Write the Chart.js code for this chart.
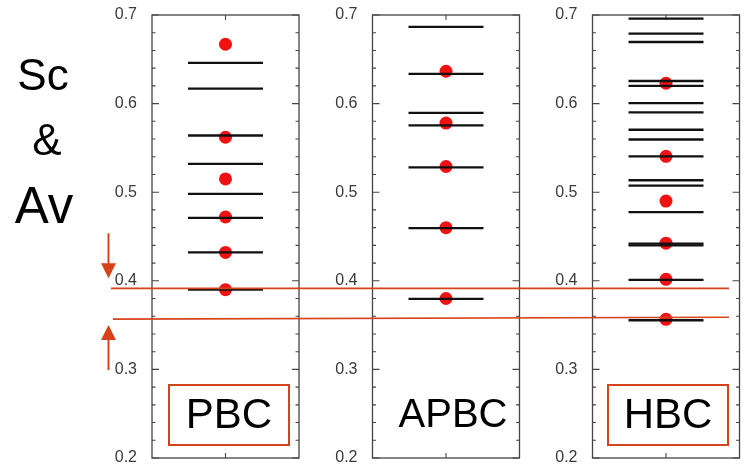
<!DOCTYPE html>
<html>
<head>
<meta charset="utf-8">
<script src="https://cdn.jsdelivr.net/npm/chart.js@4.4.1/dist/chart.umd.min.js"></script>
<style>
  html, body { margin: 0; padding: 0; background: #fff; }
  #wrap { position: relative; width: 748px; height: 469px; overflow: hidden; font-family: "Liberation Sans", Arial, sans-serif; }
  canvas { position: absolute; left: 0; top: 0; }
  .lbl { position: absolute; color: #000; line-height: 1; white-space: nowrap; text-align: center; }
  .box { position: absolute; box-sizing: border-box; border: 2px solid #d4441c; }
</style>
</head>
<body>
<div id="wrap">
  <canvas id="c1" width="748" height="469"></canvas>
  <canvas id="c2" width="748" height="469"></canvas>
  <canvas id="c3" width="748" height="469"></canvas>
  <div class="box" style="left:168px;top:384px;width:122px;height:62px;"></div>
  <div class="box" style="left:607px;top:384px;width:122px;height:62px;"></div>
  <div class="lbl" style="left:-2px;top:53px;width:90px;font-size:44px;">Sc</div>
  <div class="lbl" style="left:2px;top:118px;width:90px;font-size:44px;">&amp;</div>
  <div class="lbl" style="left:-1px;top:180px;width:90px;font-size:51px;">Av</div>
  <div class="lbl" style="left:169px;top:393px;width:120px;font-size:42px;">PBC</div>
  <div class="lbl" style="left:393px;top:393px;width:120px;font-size:40px;">APBC</div>
  <div class="lbl" style="left:608px;top:393px;width:120px;font-size:42px;">HBC</div>
</div>
<script>
// ---- data ----
const panels = ['PBC', 'APBC', 'HBC'];
const yTickLabels = ['0.2', '0.3', '0.4', '0.5', '0.6', '0.7'];
const pbcLevels  = [0.646, 0.617, 0.564, 0.532, 0.498, 0.471, 0.432, 0.390];
const pbcDots    = [0.667, 0.562, 0.515, 0.472, 0.432, 0.390];
const apbcLevels = [0.6865, 0.6335, 0.5895, 0.5755, 0.528, 0.4595, 0.3795];
const apbcDots   = [0.6365, 0.578, 0.529, 0.460, 0.380];
const hbcLevels  = [0.696, 0.679, 0.6695, 0.6255, 0.620, 0.6005, 0.590, 0.5705, 0.5595, 0.5405, 0.5135, 0.5075, 0.4775, 0.442, 0.440, 0.401, 0.3555];
const hbcDots    = [0.623, 0.5405, 0.490, 0.4425, 0.4017, 0.3565];
const thresholdLeft  = [0.3915, 0.3568];
const thresholdRight = [0.3915, 0.3588];

// ---- layout / style ----
const W = 748, H = 469;
const areaLeft = [152, 372.5, 592.5];
const areaWidth = 147;
const areaTop = 15, areaBottom = 458;
const yAxisW = 60;
const frameColor = '#444';
const redLine = '#d6431a';
const dotColor = '#f01212';

const levelsData = [pbcLevels, apbcLevels, hbcLevels];
const dotsData = [pbcDots, apbcDots, hbcDots];

function isMajor(v) { return Math.abs(v * 10 - Math.round(v * 10)) < 1e-6; }

const framePlugin = {
  id: 'frame',
  beforeDatasetsDraw(chart) {
    const ctx = chart.ctx, a = chart.chartArea, ys = chart.scales.y, xs = chart.scales.x;
    ctx.save();
    ctx.strokeStyle = frameColor;
    ctx.lineWidth = 1.3;
    ctx.strokeRect(a.left, a.top, a.right - a.left, a.bottom - a.top);
    ctx.lineWidth = 1.1;
    ys.ticks.forEach(t => {
      const y = ys.getPixelForValue(t.value);
      const len = isMajor(t.value) ? 7 : 3.5;
      ctx.beginPath();
      ctx.moveTo(a.left, y); ctx.lineTo(a.left + len, y);
      ctx.moveTo(a.right, y); ctx.lineTo(a.right - len, y);
      ctx.stroke();
    });
    const cx = xs.getPixelForValue(0);
    ctx.beginPath();
    ctx.moveTo(cx, a.top); ctx.lineTo(cx, a.top + 5);
    ctx.moveTo(cx, a.bottom); ctx.lineTo(cx, a.bottom - 5);
    ctx.stroke();
    ctx.restore();
  }
};

const overlayPlugin = {
  id: 'overlay',
  afterDraw(chart) {
    const ctx = chart.ctx, ys = chart.scales.y;
    const xStart = [111, 113], xEnd = 729;
    ctx.save();
    ctx.strokeStyle = redLine;
    ctx.fillStyle = redLine;
    ctx.lineWidth = 1.6;
    const yl = [], yr = [];
    for (let i = 0; i < thresholdLeft.length; i++) {
      yl[i] = ys.getPixelForValue(thresholdLeft[i]);
      yr[i] = ys.getPixelForValue(thresholdRight[i]);
      ctx.beginPath();
      ctx.moveTo(xStart[i], yl[i]);
      ctx.lineTo(xEnd, yr[i]);
      ctx.stroke();
    }
    const ax = 108.5;
    ctx.lineWidth = 2;
    let tip = yl[0] - 10;
    ctx.beginPath(); ctx.moveTo(ax, tip - 45); ctx.lineTo(ax, tip - 14); ctx.stroke();
    ctx.beginPath(); ctx.moveTo(ax - 7.5, tip - 15); ctx.lineTo(ax + 7.5, tip - 15); ctx.lineTo(ax, tip); ctx.closePath(); ctx.fill();
    tip = yl[1] + 6;
    ctx.beginPath(); ctx.moveTo(ax, tip + 45); ctx.lineTo(ax, tip + 14); ctx.stroke();
    ctx.beginPath(); ctx.moveTo(ax - 7.5, tip + 15); ctx.lineTo(ax + 7.5, tip + 15); ctx.lineTo(ax, tip); ctx.closePath(); ctx.fill();
    ctx.restore();
  }
};

panels.forEach((name, i) => {
  const left = areaLeft[i];
  const plugins = [framePlugin];
  if (i === panels.length - 1) plugins.push(overlayPlugin);
  new Chart(document.getElementById('c' + (i + 1)), {
    type: 'scatter',
    data: {
      datasets: [
        {
          label: name + ' levels',
          data: levelsData[i].map(v => ({ x: 0, y: v })),
          pointStyle: 'line',
          pointRadius: 37.5,
          borderColor: '#111',
          backgroundColor: '#111',
          borderWidth: 2.3,
          showLine: false
        },
        {
          label: name + ' points',
          data: dotsData[i].map(v => ({ x: 0, y: v })),
          pointStyle: 'circle',
          pointRadius: 6.5,
          borderWidth: 0,
          backgroundColor: dotColor,
          borderColor: dotColor,
          showLine: false
        }
      ]
    },
    options: {
      responsive: false,
      animation: false,
      events: [],
      layout: { autoPadding: false, padding: { left: left - yAxisW, right: W - (left + areaWidth), top: areaTop, bottom: H - areaBottom } },
      plugins: { legend: { display: false }, tooltip: { enabled: false } },
      scales: {
        x: { type: 'linear', min: -1, max: 1, display: false },
        y: {
          type: 'linear', min: 0.2, max: 0.7,
          afterFit(s) { s.width = yAxisW; s.paddingTop = 0; s.paddingBottom = 0; },
          grid: { display: false },
          border: { display: false },
          ticks: {
            stepSize: 0.02,
            autoSkip: false,
            padding: 7,
            color: '#3a3a3a',
            font: { family: 'Liberation Sans', size: 16 },
            callback(v) {
              if (!isMajor(v)) return '';
              const idx = Math.round(v * 10) - 2;
              return yTickLabels[idx];
            }
          }
        }
      }
    },
    plugins
  });
});
</script>
</body>
</html>
